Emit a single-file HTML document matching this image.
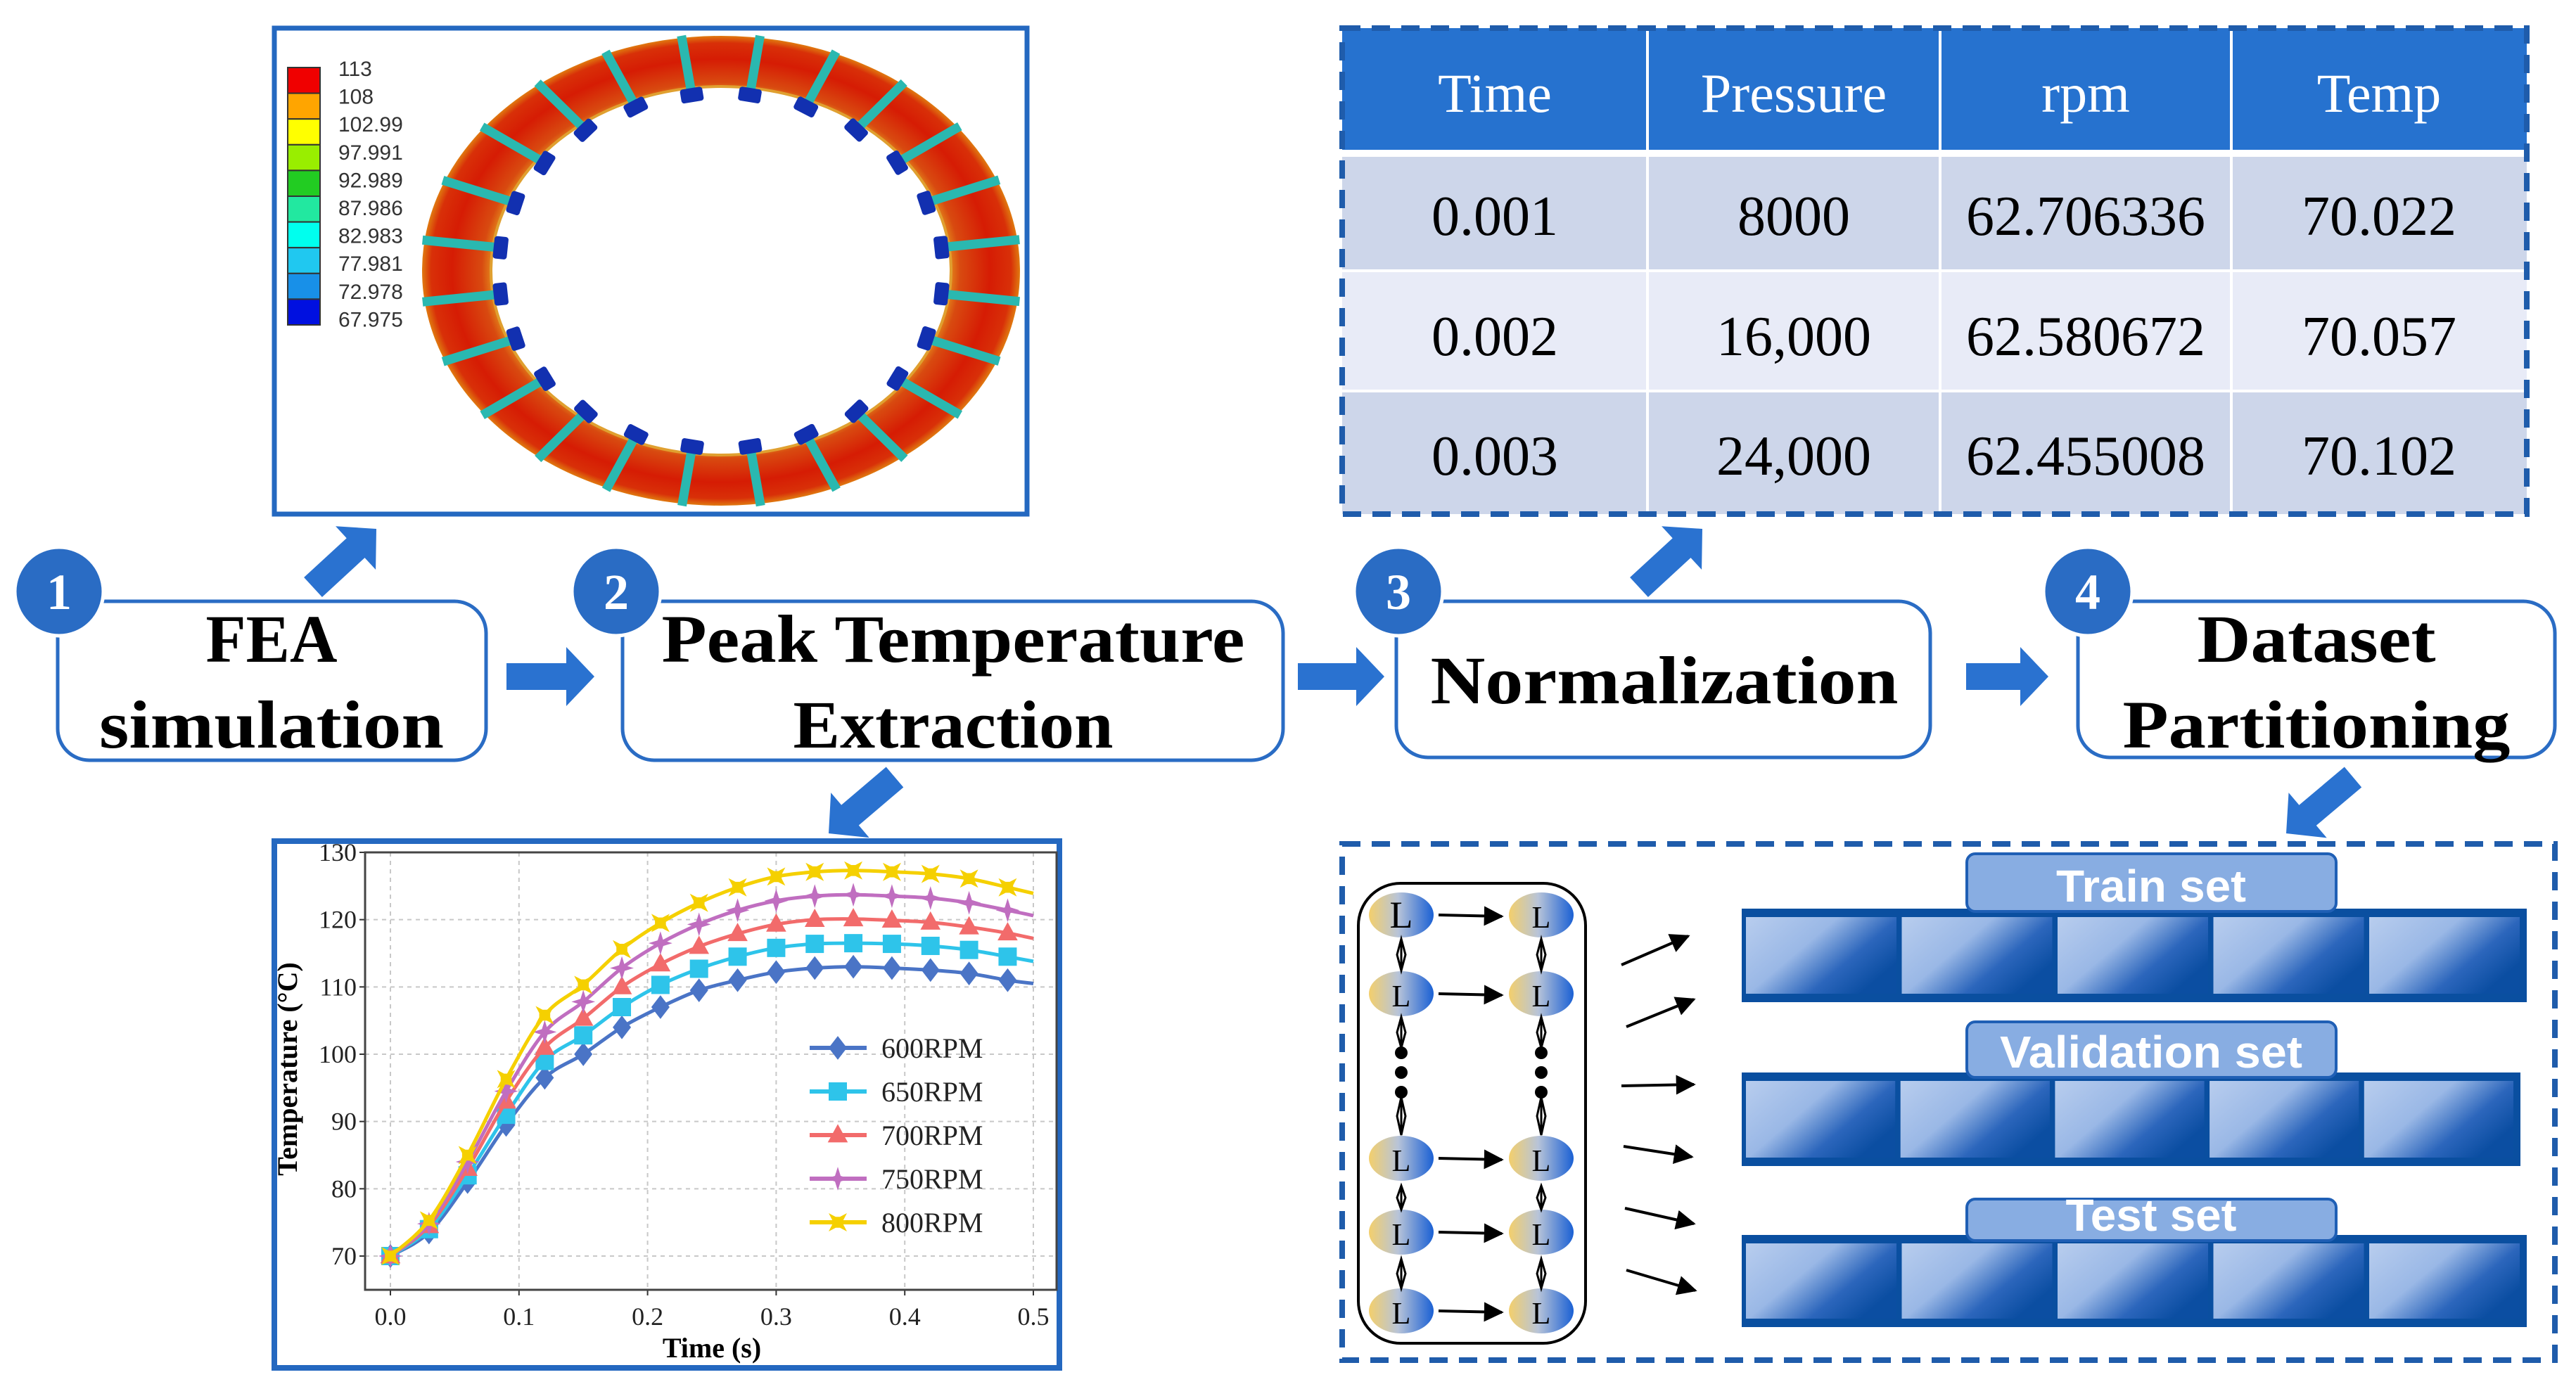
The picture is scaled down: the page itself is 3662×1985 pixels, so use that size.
<!DOCTYPE html>
<html><head><meta charset="utf-8"><style>
html,body{margin:0;padding:0;background:#fff}
svg{display:block}
text{font-family:"Liberation Serif",serif}
text.sans{font-family:"Liberation Sans",sans-serif}
</style></head><body>
<svg id="root" width="3662" height="1985" viewBox="0 0 3662 1985" xmlns="http://www.w3.org/2000/svg">
<defs>
<radialGradient id="ringG" cx="50%" cy="50%" r="50%">
<stop offset="0.75" stop-color="#e8a020"/><stop offset="0.8" stop-color="#d84a10"/><stop offset="0.9" stop-color="#d61c04"/><stop offset="0.97" stop-color="#d83008"/><stop offset="1" stop-color="#e07a10"/>
</radialGradient>
<linearGradient id="cellG" x1="0" y1="0" x2="1" y2="0.6">
<stop offset="0" stop-color="#b8cdee"/><stop offset="0.45" stop-color="#9ab8e6"/><stop offset="0.75" stop-color="#2c66bc"/><stop offset="1" stop-color="#0b4ea2"/>
</linearGradient>
<linearGradient id="nodeG" x1="0" y1="0" x2="1" y2="0">
<stop offset="0" stop-color="#f3cf6c"/><stop offset="0.45" stop-color="#b8c4d8"/><stop offset="1" stop-color="#1a60d4"/>
</linearGradient>
<marker id="ah" viewBox="0 0 10 10" refX="9" refY="5" markerWidth="7" markerHeight="7" orient="auto"><path d="M0,0 L10,5 L0,10 z" fill="#000"/></marker>
</defs>

<g>
<rect x="390" y="40" width="1070" height="691" fill="#fff" stroke="#2468c0" stroke-width="7"/>
<g id="ring">
<ellipse cx="1025" cy="385" rx="425" ry="334" fill="url(#ringG)"/>
<ellipse cx="1025" cy="385" rx="327" ry="262" fill="#fff" stroke="#e0a030" stroke-width="4"/>
</g>
<g id="cbar"></g>
</g>

<g id="table">
<rect x="1908" y="40" width="1684" height="175" fill="#2672cf"/>
<rect x="1908" y="215" width="1684" height="170" fill="#cdd6ea"/>
<rect x="1908" y="385" width="1684" height="171" fill="#e8ebf7"/>
<rect x="1908" y="556" width="1684" height="175" fill="#cdd6ea"/>
<line x1="1908" y1="218" x2="3592" y2="218" stroke="#fff" stroke-width="10"/>
<line x1="1908" y1="385" x2="3592" y2="385" stroke="#fff" stroke-width="4"/>
<line x1="1908" y1="556" x2="3592" y2="556" stroke="#fff" stroke-width="4"/>
<line x1="2342" y1="40" x2="2342" y2="731" stroke="#fff" stroke-width="4"/>
<line x1="2758" y1="40" x2="2758" y2="731" stroke="#fff" stroke-width="4"/>
<line x1="3172" y1="40" x2="3172" y2="731" stroke="#fff" stroke-width="4"/>
<rect x="1908" y="40" width="1684" height="691" fill="none" stroke="#1f5cab" stroke-width="8" stroke-dasharray="26,16"/>
<g font-size="78" text-anchor="middle" fill="#fff">
<text x="2125" y="159">Time</text>
<text x="2550" y="159">Pressure</text>
<text x="2965" y="159">rpm</text>
<text x="3382" y="159">Temp</text>
</g>
<g font-size="80" text-anchor="middle" fill="#000">
<text x="2125" y="334">0.001</text>
<text x="2550" y="334">8000</text>
<text x="2965" y="334">62.706336</text>
<text x="3382" y="334">70.022</text>
<text x="2125" y="505">0.002</text>
<text x="2550" y="505">16,000</text>
<text x="2965" y="505">62.580672</text>
<text x="3382" y="505">70.057</text>
<text x="2125" y="675">0.003</text>
<text x="2550" y="675">24,000</text>
<text x="2965" y="675">62.455008</text>
<text x="3382" y="675">70.102</text>
</g>
</g>

<g fill="#fff" stroke="#2a6cc4" stroke-width="5">
<rect x="82" y="855" width="609" height="226" rx="45"/>
<rect x="885" y="855" width="939" height="226" rx="45"/>
<rect x="1985" y="855" width="759" height="222" rx="45"/>
<rect x="2954" y="855" width="678" height="222" rx="45"/>
</g>
<g font-weight="bold" font-size="96" text-anchor="middle" fill="#000">
<text x="386" y="941" textLength="187" lengthAdjust="spacingAndGlyphs">FEA</text>
<text x="386" y="1063" textLength="490" lengthAdjust="spacingAndGlyphs">simulation</text>
<text x="1355" y="941" textLength="829" lengthAdjust="spacingAndGlyphs">Peak Temperature</text>
<text x="1355" y="1063" textLength="455" lengthAdjust="spacingAndGlyphs">Extraction</text>
<text x="2366" y="1000" textLength="665" lengthAdjust="spacingAndGlyphs">Normalization</text>
<text x="3293" y="941" textLength="339" lengthAdjust="spacingAndGlyphs">Dataset</text>
<text x="3293" y="1063" textLength="551" lengthAdjust="spacingAndGlyphs">Partitioning</text>
</g>
<g>
<circle cx="84" cy="841" r="63" fill="#2a6cc4" stroke="#fff" stroke-width="5"/>
<circle cx="876" cy="841" r="63" fill="#2a6cc4" stroke="#fff" stroke-width="5"/>
<circle cx="1988" cy="841" r="63" fill="#2a6cc4" stroke="#fff" stroke-width="5"/>
<circle cx="2968" cy="841" r="63" fill="#2a6cc4" stroke="#fff" stroke-width="5"/>
<g font-weight="bold" font-size="72" fill="#fff" text-anchor="middle">
<text x="84" y="866">1</text><text x="876" y="866">2</text><text x="1988" y="866">3</text><text x="2968" y="866">4</text>
</g>
</g>
<g id="arrows"></g>

<rect x="390" y="1196" width="1116" height="749" fill="#fff" stroke="#2468c0" stroke-width="8"/>
<g id="chart"></g>

<g id="ds">
<rect x="1908" y="1200" width="1724" height="734" fill="none" stroke="#1f5cab" stroke-width="8" stroke-dasharray="26,16"/>
<rect x="1931" y="1256" width="323" height="654" rx="60" fill="none" stroke="#000" stroke-width="4"/>
</g>
</svg>
<script>
var times=[0,0.03,0.06,0.09,0.12,0.15,0.18,0.21,0.24,0.27,0.30,0.33,0.36,0.39,0.42,0.45,0.48,0.5];
var s600=[70,73.5,81,89.5,96.5,100,104,107,109.5,111,112.2,112.8,113,112.8,112.5,112,111,110.5];
var s650=[70,74,82,91,99,102.8,107,110.3,112.7,114.5,115.8,116.4,116.5,116.4,116.1,115.5,114.5,113.8];
var s700=[70,74.5,83,93,101,105.3,110,113.4,116,117.9,119.3,120,120.1,119.9,119.6,118.9,118,117.2];
var s750=[70,74.8,84,94.5,103.3,107.8,112.8,116.5,119.3,121.4,122.8,123.5,123.7,123.5,123.2,122.5,121.4,120.6];
var s800=[70,75.3,85,96.3,105.8,110.3,115.6,119.5,122.5,124.8,126.4,127.1,127.3,127.1,126.8,126.1,124.8,123.9];
var seriesNames=['600RPM','650RPM','700RPM','750RPM','800RPM'];
var xTicks=['0.0','0.1','0.2','0.3','0.4','0.5'];
var yTicks=['70','80','90','100','110','120','130'];

var NS="http://www.w3.org/2000/svg";
function mk(tag,attrs,parent){var e=document.createElementNS(NS,tag);for(var k in attrs)e.setAttribute(k,attrs[k]);parent.appendChild(e);return e;}

var ring=document.getElementById('ring');
for(var i=0;i<24;i++){
  var a=(i/24)*Math.PI*2+0.13;
  var ca=Math.cos(a),sa=Math.sin(a);
  var l=mk('line',{x1:1025+322*ca,y1:385+257*sa,x2:1025+428*ca,y2:385+337*sa,stroke:'#2ab8b0','stroke-width':13},ring);
  
  
  var ang=Math.atan2(262*sa,327*ca)*180/Math.PI;
  var t=mk('rect',{x:-10,y:-16,width:20,height:32,rx:4,fill:'#1230b0',transform:'translate('+(1025+316*ca).toFixed(1)+','+(385+252*sa).toFixed(1)+') rotate('+ang.toFixed(1)+')'},ring);
  
  
}
var cbar=document.getElementById('cbar');
var cbColors=['#f00000','#ffa500','#ffff00','#99ee00','#22cc22','#22e8a0','#00ffee','#20c8f0','#1890e8','#0010e0'];
var cbLabels=['113','108','102.99','97.991','92.989','87.986','82.983','77.981','72.978','67.975'];
for(var i=0;i<10;i++){
  var r=mk('rect',{x:409,y:96+i*36.6,width:46,height:36.6,fill:cbColors[i],stroke:'#333','stroke-width':2},cbar);
  
  
  var tx=mk('text',{x:481,y:108+i*39.6,'font-size':30,fill:'#333','class':'sans'},cbar);
  tx.textContent=cbLabels[i];
  
  
}

var arrows=document.getElementById('arrows');
function barrow(x1,y1,x2,y2,name){
  var dx=x2-x1,dy=y2-y1,L=Math.hypot(dx,dy),ux=dx/L,uy=dy/L,px=-uy,py=ux;
  var sw=19,hw=42,hl=40,bx=x2-ux*hl,by=y2-uy*hl;
  var pts=[[x1+px*sw,y1+py*sw],[bx+px*sw,by+py*sw],[bx+px*hw,by+py*hw],[x2,y2],[bx-px*hw,by-py*hw],[bx-px*sw,by-py*sw],[x1-px*sw,y1-py*sw]];
  var p=mk('polygon',{points:pts.map(function(q){return q[0].toFixed(1)+','+q[1].toFixed(1)}).join(' '),fill:'#2a72d0'},arrows);
  
  
}
barrow(720,962,845,962,'arrow-1-to-2');
barrow(1845,962,1968,962,'arrow-2-to-3');
barrow(2795,962,2912,962,'arrow-3-to-4');
barrow(445,835,535,752,'arrow-to-fea');
barrow(2330,835,2420,752,'arrow-to-table');
barrow(1272,1105,1178,1185,'arrow-to-chart');
barrow(3345,1105,3250,1185,'arrow-to-dataset');

var chart=document.getElementById('chart');
var X0=519,X1=1502,Y0=1212,Y1=1834;
function xs(t){return 555+t*1828;}
function ys(v){return 1786-(v-70)*9.567;}
mk('rect',{x:X0,y:Y0,width:X1-X0,height:Y1-Y0,fill:'#fff'},chart);
xTicks.forEach(function(lb){
  var v=parseFloat(lb),x=xs(v);
  var g=mk('line',{x1:x,y1:Y0,x2:x,y2:Y1,stroke:'#c8c8c8','stroke-width':2,'stroke-dasharray':'6,6'},chart);
  
  
  mk('line',{x1:x,y1:Y1,x2:x,y2:Y1+8,stroke:'#333','stroke-width':2},chart);
  var t=mk('text',{x:x,y:Y1+50,'font-size':36,'text-anchor':'middle',fill:'#222'},chart);
  t.textContent=lb;
  
  
});
yTicks.forEach(function(lb){
  var v=parseFloat(lb),y=ys(v);
  var g=mk('line',{x1:X0,y1:y,x2:X1,y2:y,stroke:'#c8c8c8','stroke-width':2,'stroke-dasharray':'6,6'},chart);
  
  
  mk('line',{x1:X0-8,y1:y,x2:X0,y2:y,stroke:'#333','stroke-width':2},chart);
  var t=mk('text',{x:X0-12,y:y+12,'font-size':36,'text-anchor':'end',fill:'#222'},chart);
  t.textContent=lb;
  
  
});
mk('rect',{x:X0,y:Y0,width:X1-X0,height:Y1-Y0,fill:'none',stroke:'#444','stroke-width':3},chart);
var xt=mk('text',{x:1012,y:1930,'font-size':40,'font-weight':'bold','text-anchor':'middle'},chart);
xt.textContent='Time (s)';


var yt=mk('text',{x:0,y:0,'font-size':40,'font-weight':'bold','text-anchor':'middle',transform:'translate(422,1520) rotate(-90)'},chart);
yt.textContent='Temperature (°C)';



var colors=['#4a74c6','#2ec4ea','#f26b6b','#c06ec0','#f5d000'];
var markerTypes=['diamond','square','triangle','star4','starsq'];
function marker(type,x,y,c,parent){
  var s=13,e;
  if(type==='diamond')e=mk('polygon',{points:[x,y-s*1.3,x+s,y,x,y+s*1.3,x-s,y].join(','),fill:c},parent);
  else if(type==='square')e=mk('rect',{x:x-s,y:y-s,width:2*s,height:2*s,fill:c},parent);
  else if(type==='triangle')e=mk('polygon',{points:[x,y-s*1.2,x+s*1.1,y+s*0.8,x-s*1.1,y+s*0.8].join(','),fill:c},parent);
  else if(type==='star4')e=mk('polygon',{points:[x,y-s*1.3,x+4,y-4,x+s*1.3,y,x+4,y+4,x,y+s*1.3,x-4,y+4,x-s*1.3,y,x-4,y-4].join(','),fill:c},parent);
  else e=mk('polygon',{points:[x-s,y-s,x-3,y-s*0.6,x+3,y-s*0.6,x+s,y-s,x+s*0.6,y-3,x+s*0.6,y+3,x+s,y+s,x+3,y+s*0.6,x-3,y+s*0.6,x-s,y+s,x-s*0.6,y+3,x-s*0.6,y-3].join(','),fill:c},parent);
  return e;
}
function smoothPath(pts){
  var d='M'+pts[0][0]+','+pts[0][1];
  for(var i=0;i<pts.length-1;i++){
    var p0=pts[Math.max(i-1,0)],p1=pts[i],p2=pts[i+1],p3=pts[Math.min(i+2,pts.length-1)];
    d+=' C'+(p1[0]+(p2[0]-p0[0])/6).toFixed(1)+','+(p1[1]+(p2[1]-p0[1])/6).toFixed(1)+' '+(p2[0]-(p3[0]-p1[0])/6).toFixed(1)+','+(p2[1]-(p3[1]-p1[1])/6).toFixed(1)+' '+p2[0].toFixed(1)+','+p2[1].toFixed(1);
  }
  return d;
}
var allSeries=[s600,s650,s700,s750,s800];
allSeries.forEach(function(vals,si){
  var g=mk('g',{},chart);
  
  
  var pts=vals.map(function(v,i){return [xs(times[i]),ys(v)];});
  var p=mk('path',{d:smoothPath(pts),fill:'none',stroke:colors[si],'stroke-width':5},g);
  
  
  for(var i=0;i<vals.length-1;i++){
    var m=marker(markerTypes[si],pts[i][0],pts[i][1],colors[si],g);
    
    
  }
  var ly=1490+si*62;
  var lg=mk('g',{},chart);
  
  
  mk('line',{x1:1151,y1:ly,x2:1232,y2:ly,stroke:colors[si],'stroke-width':6},lg);
  marker(markerTypes[si],1191,ly,colors[si],lg);
  var lt=mk('text',{x:1253,y:ly+14,'font-size':40,fill:'#222'},lg);
  lt.textContent=seriesNames[si];
});

var ds=document.getElementById('ds');
var nodeX=[1992,2191],nodeY=[1301,1413,1647,1752,1864];
nodeY.forEach(function(y,ri){
  nodeX.forEach(function(x,ci){
    var e=mk('ellipse',{cx:x,cy:y,rx:46,ry:32,fill:'url(#nodeG)'},ds);
    
    
    var t=mk('text',{x:x,y:y+18,'font-size':(ri===0&&ci===0)?54:44,'text-anchor':'middle',fill:'#000'},ds);
    t.textContent='L';
  });
  var a=mk('line',{x1:2045,y1:y,x2:2135,y2:y+2,stroke:'#000','stroke-width':4,'marker-end':'url(#ah)'},ds);
  
  
});
[[1335,1380],[1446,1490],[1560,1614],[1686,1720],[1790,1832]].forEach(function(seg){
  nodeX.forEach(function(x){
    mk('line',{x1:x,y1:seg[0],x2:x,y2:seg[1],stroke:'#000','stroke-width':3},ds);
    mk('polygon',{points:[x,seg[0],x+6,(seg[0]+seg[1])/2,x,seg[1],x-6,(seg[0]+seg[1])/2].join(','),fill:'none',stroke:'#000','stroke-width':3},ds);
  });
});
[1497,1525,1553].forEach(function(y){nodeX.forEach(function(x){mk('circle',{cx:x,cy:y,r:9,fill:'#000'},ds);});});
[[2305,1372,2400,1331],[2312,1460,2408,1421],[2305,1544,2408,1542],[2308,1630,2405,1645],[2310,1718,2408,1740],[2312,1806,2410,1835]].forEach(function(s){
  var l=mk('line',{x1:s[0],y1:s[1],x2:s[2],y2:s[3],stroke:'#000','stroke-width':4,'marker-end':'url(#ah)'},ds);
  
  
});
var sets=[['Train set',1292,1425,3592,1214,1296,270],['Validation set',1525,1658,3583,1453,1532,430],['Test set',1756,1887,3592,1705,1764,243]];
sets.forEach(function(s){
  var g=mk('g',{},ds);
  
  
  mk('rect',{x:2476,y:s[1],width:s[3]-2476,height:s[2]-s[1],fill:'#0a4fa0'},g);
  var cw=(s[3]-2476-16)/5;
  for(var i=0;i<5;i++){
    mk('rect',{x:2482+i*(cw+1.5),y:s[1]+12,width:cw-6,height:s[2]-s[1]-24,fill:'url(#cellG)'},g);
  }
  mk('rect',{x:2796,y:s[4],width:525,height:s[5]-s[4],rx:12,fill:'#88ade2',stroke:'#1f5fb5','stroke-width':4},g);
  var t=mk('text',{x:3058,y:s[5]-14,'font-size':64,'font-weight':'bold','text-anchor':'middle',fill:'#fff','class':'sans',textLength:s[6],lengthAdjust:'spacingAndGlyphs'},g);
  t.textContent=s[0];
});
</script>
</body></html>
